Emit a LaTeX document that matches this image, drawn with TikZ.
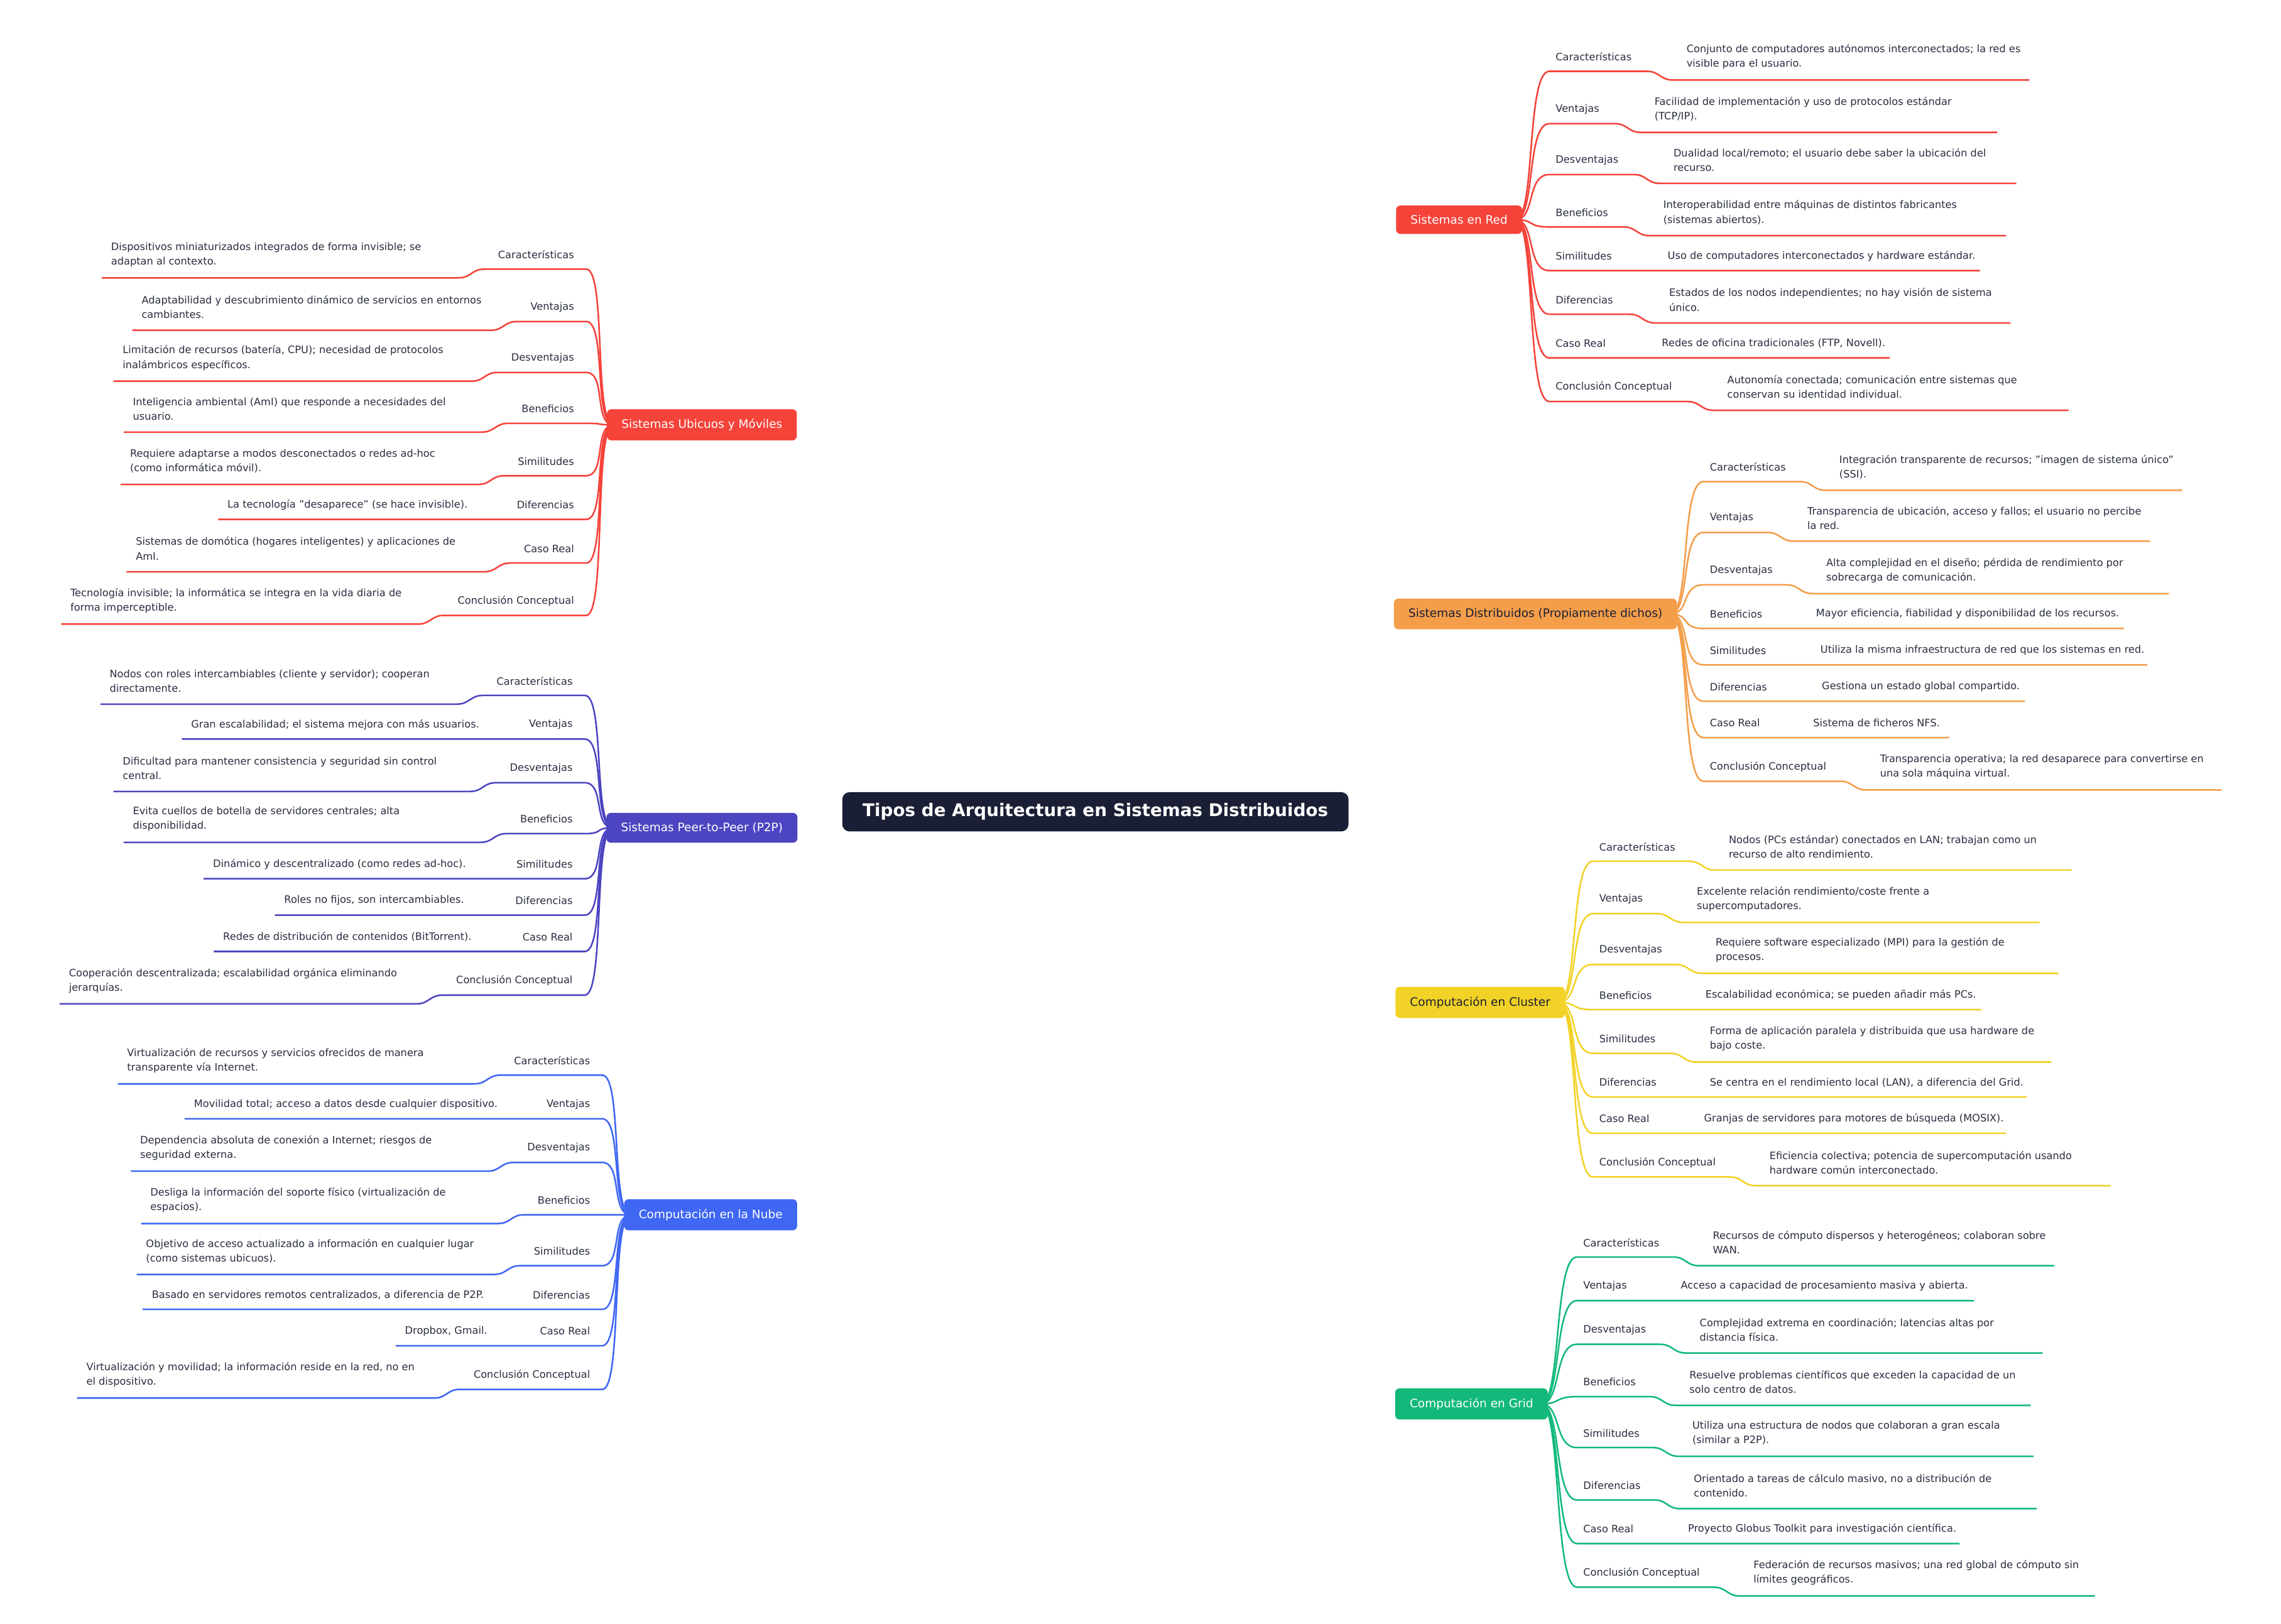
\documentclass[tikz,border=0pt]{standalone}
\usepackage{fontspec}
\setmainfont{DejaVu Sans}
\usetikzlibrary{calc,backgrounds}
\definecolor{cred}{HTML}{F5433A}
\definecolor{corange}{HTML}{F49E4A}
\definecolor{cyellow}{HTML}{F2D226}
\definecolor{cgreen}{HTML}{12B97B}
\definecolor{cindigo}{HTML}{4C44C0}
\definecolor{cblue}{HTML}{3F67F3}
\definecolor{cdark}{HTML}{1B1F35}
\definecolor{ctext}{HTML}{2A2E40}
\newcounter{lf}
\newcommand\leafR[9]{%
\stepcounter{lf}%
\node[lab,anchor=west] (L\arabic{lf}) at (#4,#3) {#5};
\node[val,anchor=west] (V\arabic{lf}) at (#6,#3) {#7};
\ifnum#9=2
\draw[#2,leaf] ($(#1.east)+(-5,0)$) .. controls ($(#1.east)+(9,0)$) and ({#4-20},{#3+10}) .. ({#4-4},{#3+10}) -- ({#6-27},{#3+10}) .. controls ({#6-18},{#3+10}) and ({#6-18},{#3+16}) .. ({#6-9},{#3+16}) -- (#8,{#3+16});
\else
\draw[#2,leaf] ($(#1.east)+(-5,0)$) .. controls ($(#1.east)+(9,0)$) and ({#4-20},{#3+10}) .. ({#4-4},{#3+10}) -- (#8,{#3+10});
\fi}
\newcommand\leafL[9]{%
\stepcounter{lf}%
\node[lab,anchor=east] (L\arabic{lf}) at (#4,#3) {#5};
\node[val,anchor=west] (V\arabic{lf}) at (#6,#3) {#7};
\ifnum#9=2
\draw[#2,leaf] (#8,{#3+16}) -- ($(L\arabic{lf}.west)+(-27,16)$) .. controls ($(L\arabic{lf}.west)+(-18,16)$) and ($(L\arabic{lf}.west)+(-18,10)$) .. ($(L\arabic{lf}.west)+(-9,10)$) -- ({#4+8},{#3+10}) .. controls ({#4+22},{#3+10}) and ($(#1.west)+(-9,0)$) .. ($(#1.west)+(5,0)$);
\else
\draw[#2,leaf] (#8,{#3+10}) -- ({#4+8},{#3+10}) .. controls ({#4+22},{#3+10}) and ($(#1.west)+(-9,0)$) .. ($(#1.west)+(5,0)$);
\fi}
\begin{document}
\begin{tikzpicture}[x=0.5pt,y=-0.5pt,
  lab/.style={inner sep=0pt,text=ctext,font=\fontsize{3.5}{5}\selectfont},
  val/.style={inner sep=0pt,text=ctext,align=left,font=\fontsize{3.5}{5}\selectfont},
  leaf/.style={line width=0.55pt},
  main/.style={line width=1.1pt},
  topic/.style={rounded corners=1.5pt,minimum height=9pt,inner xsep=5pt,font=\fontsize{4}{5}\selectfont},
  ]
\fill[white] (0,0) rectangle (1568,1116);
\useasboundingbox (0,0) rectangle (1568,1116);
\node[fill=cdark,text=white,rounded corners=2.5pt,minimum width=174pt,minimum height=13.5pt,font=\bfseries\fontsize{6}{7}\selectfont] (C) at (753,558) {Tipos de Arquitectura en Sistemas Distribuidos};
\node[topic,fill=cred,text=white] (R) at (1003,151) {Sistemas en Red};
\node[topic,fill=corange,text=cdark] (D) at (1055.5,422) {Sistemas Distribuidos (Propiamente dichos)};
\node[topic,fill=cyellow,text=cdark] (K) at (1017.5,689) {Computación en Cluster};
\node[topic,fill=cgreen,text=white] (G) at (1011.5,965) {Computación en Grid};
\node[topic,fill=cred,text=white] (U) at (482.5,292) {Sistemas Ubicuos y Móviles};
\node[topic,fill=cindigo,text=white] (P) at (482.5,569) {Sistemas Peer-to-Peer (P2P)};
\node[topic,fill=cblue,text=white] (N) at (488.5,835) {Computación en la Nube};
\begin{pgfonlayer}{background}
\draw[cred,main] ([xshift=32pt]C.center) to[out=90,in=180] (R.west);
\draw[corange,main] ([xshift=37pt]C.center) to[out=90,in=180] (D.west);
\draw[cyellow,main] ([xshift=37pt]C.center) to[out=-90,in=180] (K.west);
\draw[cgreen,main] ([xshift=32pt]C.center) to[out=-90,in=180] (G.west);
\draw[cred,main] ([xshift=-34pt]C.center) to[out=90,in=0] (U.east);
\draw[cindigo,main] (C.west|-P.east) -- (P.east);
\draw[cblue,main] ([xshift=-34pt]C.center) to[out=-90,in=0] (N.east);
\end{pgfonlayer}
% Sistemas en Red
\leafR{R}{cred}{39}{1069}{Características}{1159}{Conjunto de computadores autónomos interconectados; la red es\\visible para el usuario.}{1395}{2}
\leafR{R}{cred}{75}{1069}{Ventajas}{1137}{Facilidad de implementación y uso de protocolos estándar\\(TCP/IP).}{1373}{2}
\leafR{R}{cred}{110}{1069}{Desventajas}{1150}{Dualidad local/remoto; el usuario debe saber la ubicación del\\recurso.}{1386}{2}
\leafR{R}{cred}{146}{1069}{Beneficios}{1143}{Interoperabilidad entre máquinas de distintos fabricantes\\(sistemas abiertos).}{1379}{2}
\leafR{R}{cred}{176}{1069}{Similitudes}{1146}{Uso de computadores interconectados y hardware estándar.}{1361}{1}
\leafR{R}{cred}{206}{1069}{Diferencias}{1147}{Estados de los nodos independientes; no hay visión de sistema\\único.}{1382}{2}
\leafR{R}{cred}{236}{1069}{Caso Real}{1142}{Redes de oficina tradicionales (FTP, Novell).}{1299}{1}
\leafR{R}{cred}{266}{1069}{Conclusión Conceptual}{1187}{Autonomía conectada; comunicación entre sistemas que\\conservan su identidad individual.}{1422}{2}
% Distribuidos
\leafR{D}{corange}{321}{1175}{Características}{1264}{Integración transparente de recursos; "imagen de sistema único"\\(SSI).}{1500}{2}
\leafR{D}{corange}{356}{1175}{Ventajas}{1242}{Transparencia de ubicación, acceso y fallos; el usuario no percibe\\la red.}{1478}{2}
\leafR{D}{corange}{392}{1175}{Desventajas}{1255}{Alta complejidad en el diseño; pérdida de rendimiento por\\sobrecarga de comunicación.}{1491}{2}
\leafR{D}{corange}{422}{1175}{Beneficios}{1248}{Mayor eficiencia, fiabilidad y disponibilidad de los recursos.}{1460}{1}
\leafR{D}{corange}{447}{1175}{Similitudes}{1251}{Utiliza la misma infraestructura de red que los sistemas en red.}{1476}{1}
\leafR{D}{corange}{472}{1175}{Diferencias}{1252}{Gestiona un estado global compartido.}{1392}{1}
\leafR{D}{corange}{497}{1175}{Caso Real}{1246}{Sistema de ficheros NFS.}{1340}{1}
\leafR{D}{corange}{527}{1175}{Conclusión Conceptual}{1292}{Transparencia operativa; la red desaparece para convertirse en\\una sola máquina virtual.}{1527}{2}
% Cluster
\leafR{K}{cyellow}{582}{1099}{Características}{1188}{Nodos (PCs estándar) conectados en LAN; trabajan como un\\recurso de alto rendimiento.}{1424}{2}
\leafR{K}{cyellow}{618}{1099}{Ventajas}{1166}{Excelente relación rendimiento/coste frente a\\supercomputadores.}{1402}{2}
\leafR{K}{cyellow}{653}{1099}{Desventajas}{1179}{Requiere software especializado (MPI) para la gestión de\\procesos.}{1415}{2}
\leafR{K}{cyellow}{684}{1099}{Beneficios}{1172}{Escalabilidad económica; se pueden añadir más PCs.}{1362}{1}
\leafR{K}{cyellow}{714}{1099}{Similitudes}{1175}{Forma de aplicación paralela y distribuida que usa hardware de\\bajo coste.}{1410}{2}
\leafR{K}{cyellow}{744}{1099}{Diferencias}{1175}{Se centra en el rendimiento local (LAN), a diferencia del Grid.}{1393}{1}
\leafR{K}{cyellow}{769}{1099}{Caso Real}{1171}{Granjas de servidores para motores de búsqueda (MOSIX).}{1379}{1}
\leafR{K}{cyellow}{799}{1099}{Conclusión Conceptual}{1216}{Eficiencia colectiva; potencia de supercomputación usando\\hardware común interconectado.}{1451}{2}
% Grid
\leafR{G}{cgreen}{854}{1088}{Características}{1177}{Recursos de cómputo dispersos y heterogéneos; colaboran sobre\\WAN.}{1412}{2}
\leafR{G}{cgreen}{884}{1088}{Ventajas}{1155}{Acceso a capacidad de procesamiento masiva y abierta.}{1357}{1}
\leafR{G}{cgreen}{914}{1088}{Desventajas}{1168}{Complejidad extrema en coordinación; latencias altas por\\distancia física.}{1404}{2}
\leafR{G}{cgreen}{950}{1088}{Beneficios}{1161}{Resuelve problemas científicos que exceden la capacidad de un\\solo centro de datos.}{1396}{2}
\leafR{G}{cgreen}{985}{1088}{Similitudes}{1163}{Utiliza una estructura de nodos que colaboran a gran escala\\(similar a P2P).}{1398}{2}
\leafR{G}{cgreen}{1021}{1088}{Diferencias}{1164}{Orientado a tareas de cálculo masivo, no a distribución de\\contenido.}{1400}{2}
\leafR{G}{cgreen}{1051}{1088}{Caso Real}{1160}{Proyecto Globus Toolkit para investigación científica.}{1347}{1}
\leafR{G}{cgreen}{1081}{1088}{Conclusión Conceptual}{1205}{Federación de recursos masivos; una red global de cómputo sin\\límites geográficos.}{1440}{2}
% Ubicuos
\leafL{U}{cred}{175}{395}{Características}{76}{Dispositivos miniaturizados integrados de forma invisible; se\\adaptan al contexto.}{70}{2}
\leafL{U}{cred}{211}{395}{Ventajas}{97}{Adaptabilidad y descubrimiento dinámico de servicios en entornos\\cambiantes.}{91}{2}
\leafL{U}{cred}{246}{395}{Desventajas}{84}{Limitación de recursos (batería, CPU); necesidad de protocolos\\inalámbricos específicos.}{78}{2}
\leafL{U}{cred}{281}{395}{Beneficios}{91}{Inteligencia ambiental (AmI) que responde a necesidades del\\usuario.}{85}{2}
\leafL{U}{cred}{317}{395}{Similitudes}{89}{Requiere adaptarse a modos desconectados o redes ad-hoc\\(como informática móvil).}{83}{2}
\leafL{U}{cred}{347}{395}{Diferencias}{156}{La tecnología "desaparece" (se hace invisible).}{150}{1}
\leafL{U}{cred}{377}{395}{Caso Real}{93}{Sistemas de domótica (hogares inteligentes) y aplicaciones de\\AmI.}{87}{2}
\leafL{U}{cred}{413}{395}{Conclusión Conceptual}{48}{Tecnología invisible; la informática se integra en la vida diaria de\\forma imperceptible.}{42}{2}
% P2P
\leafL{P}{cindigo}{468}{394}{Características}{75}{Nodos con roles intercambiables (cliente y servidor); cooperan\\directamente.}{69}{2}
\leafL{P}{cindigo}{498}{394}{Ventajas}{131}{Gran escalabilidad; el sistema mejora con más usuarios.}{125}{1}
\leafL{P}{cindigo}{528}{394}{Desventajas}{84}{Dificultad para mantener consistencia y seguridad sin control\\central.}{78}{2}
\leafL{P}{cindigo}{563}{394}{Beneficios}{91}{Evita cuellos de botella de servidores centrales; alta\\disponibilidad.}{85}{2}
\leafL{P}{cindigo}{594}{394}{Similitudes}{146}{Dinámico y descentralizado (como redes ad-hoc).}{140}{1}
\leafL{P}{cindigo}{619}{394}{Diferencias}{195}{Roles no fijos, son intercambiables.}{189}{1}
\leafL{P}{cindigo}{644}{394}{Caso Real}{153}{Redes de distribución de contenidos (BitTorrent).}{147}{1}
\leafL{P}{cindigo}{674}{394}{Conclusión Conceptual}{47}{Cooperación descentralizada; escalabilidad orgánica eliminando\\jerarquías.}{41}{2}
% Nube
\leafL{N}{cblue}{729}{406}{Características}{87}{Virtualización de recursos y servicios ofrecidos de manera\\transparente vía Internet.}{81}{2}
\leafL{N}{cblue}{759}{406}{Ventajas}{133}{Movilidad total; acceso a datos desde cualquier dispositivo.}{127}{1}
\leafL{N}{cblue}{789}{406}{Desventajas}{96}{Dependencia absoluta de conexión a Internet; riesgos de\\seguridad externa.}{90}{2}
\leafL{N}{cblue}{825}{406}{Beneficios}{103}{Desliga la información del soporte físico (virtualización de\\espacios).}{97}{2}
\leafL{N}{cblue}{860}{406}{Similitudes}{100}{Objetivo de acceso actualizado a información en cualquier lugar\\(como sistemas ubicuos).}{94}{2}
\leafL{N}{cblue}{890}{406}{Diferencias}{104}{Basado en servidores remotos centralizados, a diferencia de P2P.}{98}{1}
\leafL{N}{cblue}{915}{406}{Caso Real}{278}{Dropbox, Gmail.}{272}{1}
\leafL{N}{cblue}{945}{406}{Conclusión Conceptual}{59}{Virtualización y movilidad; la información reside en la red, no en\\el dispositivo.}{53}{2}
\end{tikzpicture}
\end{document}
